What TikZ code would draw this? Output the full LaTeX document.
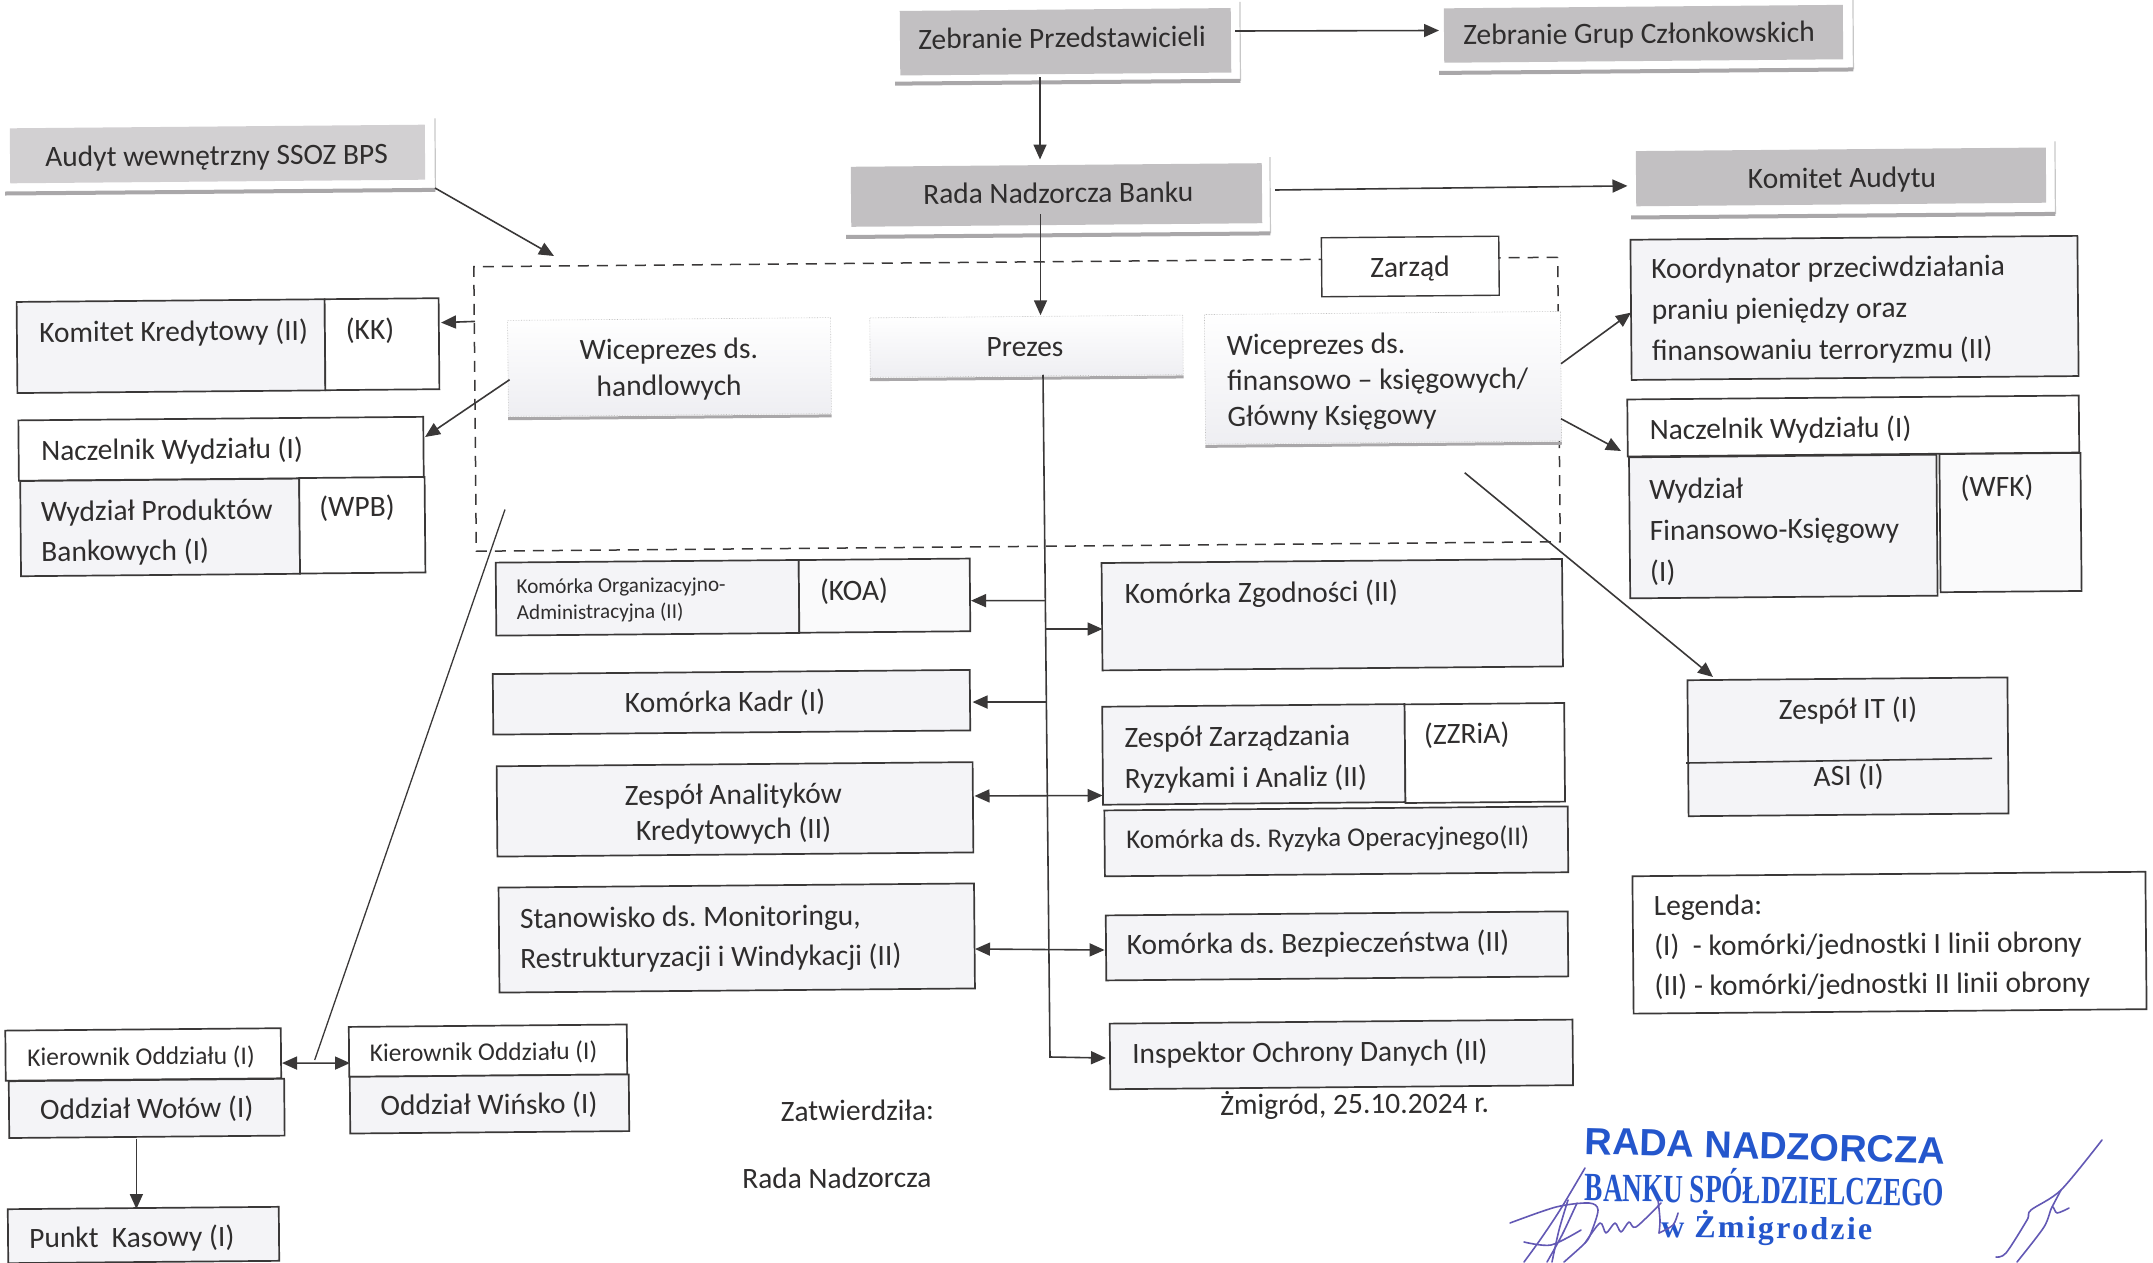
\documentclass[tikz,border=0pt]{standalone}
\usepackage{fontspec}
\usepackage{graphicx}
\setmainfont{Carlito}
\newfontfamily\stampa{Liberation Sans}
\newfontfamily\stampb{Liberation Serif}
\newfontfamily\stampc[LetterSpace=7]{Liberation Serif}
\usetikzlibrary{calc,arrows.meta}
\definecolor{inkc}{HTML}{3A3838}
\definecolor{txtc}{HTML}{2F2D2D}
\definecolor{lav}{HTML}{F4F4F7}
\definecolor{pale}{HTML}{EEEEF2}
\definecolor{gra}{HTML}{C2C0C2}
\definecolor{grb}{HTML}{D2D0D2}
\definecolor{shc}{HTML}{A9A7A9}
\definecolor{stampblue}{HTML}{2456CC}
\definecolor{signc}{HTML}{6258B4}
\tikzset{
  x=1pt,y=-1pt,
  cell/.style={rectangle,draw=inkc,line width=1.7pt,inner sep=0pt,rotate=0.5},
  lavcell/.style={cell,fill=lav},
  whitecell/.style={cell,fill=white},
  graycell/.style={rectangle,draw=none,fill=gra,inner sep=0pt,rotate=0.5},
  paleboard/.style={rectangle,draw=black!25,densely dotted,line width=.6pt,top color=white,bottom color=pale,inner sep=0pt,rotate=0.5},
  frameline/.style={rectangle,draw=inkc,dash pattern=on 11pt off 8pt,line width=1.5pt,inner sep=0pt,rotate=0.5},
  lbl/.style={inner sep=0pt,text=txtc,rotate=0.5,font=\fontsize{29.5}{40}\selectfont},
  lblsmall/.style={lbl,font=\fontsize{25.5}{30}\selectfont},
  lbltiny/.style={lbl,font=\fontsize{21.2}{26}\selectfont},
  lblnarrow/.style={lbl,font=\fontsize{27}{40}\selectfont},
  arr/.style={draw=inkc,line width=1.6pt,-{Triangle[length=15pt,width=13pt]}},
  arrb/.style={draw=inkc,line width=1.6pt,{Triangle[length=15pt,width=13pt]}-{Triangle[length=15pt,width=13pt]}},
  plain/.style={draw=inkc,line width=1.6pt},
  shr/.style={draw=black!22,line width=1.2pt},
  shb/.style={draw=shc,line width=4pt},
  signline/.style={draw=signc,line width=1.6pt,line cap=round,line join=round},
}
\newcommand{\mybox}[6]{\node[#1,minimum width={(#5-#3)*1pt},minimum height={(#6-#4)*1pt}] (#2) at ({(#3+#5)/2},{(#4+#6)/2}) {};}
\newcommand{\shad}[3]{%
  \draw[shr] ([xshift=#2pt,yshift=6pt]#1.north east) -- ([xshift=#2pt,yshift=-#3pt]#1.south east);
  \draw[shb] ([xshift=-5pt,yshift=-#3pt]#1.south west) -- ([xshift=#2pt,yshift=-#3pt]#1.south east);}
\begin{document}
\frenchspacing
\begin{tikzpicture}
\useasboundingbox (0,0) rectangle (2153,1263);
% dashed board frame
\mybox{frameline}{frame}{475}{262}{1559}{546.5}
% grey boxes
\mybox{graycell}{zp}{900}{9.5}{1231}{74}
\mybox{graycell}{zg}{1444}{6.6}{1843}{61}
\mybox{graycell,fill=grb}{audyt}{10}{126.5}{425}{181.5}
\mybox{graycell}{rada}{851}{165}{1262}{225}
\mybox{graycell}{komitet}{1636}{149.3}{2046}{204.5}
\shad{zp}{9}{8}\shad{zg}{10}{10}\shad{audyt}{10}{10}\shad{rada}{8}{10}\shad{komitet}{9}{11}
% board
\mybox{whitecell,line width=1.4pt}{zarzad}{1321.6}{237}{1499}{296}
\mybox{paleboard}{wh}{508}{319}{831}{415}
\mybox{paleboard}{prezes}{870}{316.5}{1183}{376}
\mybox{paleboard}{wf}{1205}{313}{1561}{442.5}
\draw[shb,line width=3pt] ([yshift=-2pt]wh.south west) -- ([yshift=-2pt]wh.south east);
\draw[shb,line width=3pt] ([yshift=-2pt]prezes.south west) -- ([yshift=-2pt]prezes.south east);
\draw[shb,line width=3pt] ([yshift=-2pt]wf.south west) -- ([yshift=-2pt]wf.south east);
% left cells
\mybox{lavcell}{kka}{17}{300.6}{325}{391.7}
\mybox{whitecell}{kkb}{325}{298.7}{439}{389.7}
\mybox{whitecell}{nw}{18.6}{418.6}{423.5}{479}
\mybox{lavcell}{wpba}{20.6}{479.8}{299.6}{575}
\mybox{whitecell}{wpbb}{299.6}{477.5}{425}{573}
% centre left
\mybox{lavcell}{koaa}{496}{561.3}{799}{634.3}
\mybox{whitecell,fill=lav!50}{koab}{799}{559.3}{970}{632}
\mybox{lavcell}{kadr}{493}{672}{970}{732.5}
\mybox{lavcell}{anal}{497}{764.2}{973}{854.5}
\mybox{lavcell}{stan}{499}{885.5}{974.5}{990.5}
% centre right
\mybox{lavcell}{zgod}{1102}{561}{1562.5}{668.4}
\mybox{lavcell}{zzra}{1102.6}{705.4}{1405}{803.4}
\mybox{whitecell}{zzrb}{1405}{703.7}{1564.6}{802.3}
\mybox{lavcell}{ryz}{1104.6}{808.4}{1568}{874.3}
\mybox{lavcell}{bez}{1106}{913.4}{1568}{978.4}
\mybox{lavcell}{ins}{1110}{1021.6}{1572.8}{1087.2}
% right
\mybox{lavcell}{ko}{1631}{237.8}{2078}{378}
\mybox{whitecell}{nwf}{1627.5}{397.5}{2079}{454.5}
\mybox{lavcell}{wfka}{1629.6}{456}{1937}{597}
\mybox{whitecell,fill=lav!50}{wfkb}{1940}{453.5}{2081}{591.6}
\mybox{lavcell}{it}{1688}{678.8}{2008}{814.8}
\mybox{whitecell}{leg}{1633}{874}{2146}{1011.4}
% branches
\mybox{whitecell}{kw}{5.5}{1029.4}{281}{1079.5}
\mybox{lavcell}{ow}{9}{1080}{284.4}{1136.8}
\mybox{whitecell}{kwi}{349}{1025.7}{627}{1075.6}
\mybox{lavcell}{owi}{350}{1075.6}{629}{1132.3}
\mybox{lavcell}{punkt}{8}{1208}{279}{1262}
% free points
\coordinate (cA) at (505,509.5);
\coordinate (cB) at (314.7,1060);
\coordinate (tk) at (1050,1057);
\coordinate (ja) at (1045.3,600.6);
\coordinate (jb) at (1045.6,629);
\coordinate (jc) at (1046.4,702);
\coordinate (itl) at (1686,763);
\coordinate (itr) at (1992,758.4);
% connectors
\draw[arr] ($(zp)+(169.5,-10.75)$) -- ($(zg)+(-204.5,-3.3)$);
\draw[arr] ($(zp)+(-25.5,35.75)$) -- ($(rada)+(-16.5,-35.5)$);
\draw[arr] ($(rada)+(-16,19)$) -- ($(prezes)+(14,-31)$);
\draw[arr] ($(rada)+(218.5,-5)$) -- ($(komitet)+(-213.5,9)$);
\draw[arr] ($(audyt)+(217.5,34)$) -- ($(frame)+(-463,-148.25)$);
\draw[arr] ($(frame)+(-542,-82.85)$) -- ($(kkb)+(59,-21.6)$);
\draw[arr] ($(wh)+(-159.9,12.7)$) -- ($(nw)+(204,-11.8)$);
\draw[arr] ($(wf)+(178,-14)$) -- ($(ko)+(-223.5,4.7)$);
\draw[arr] ($(wf)+(178,41)$) -- ($(nwf)+(-232.25,25)$);
\draw[arr] ($(wf)+(81.7,95)$) -- ($(it)+(-135,-69.8)$);
\draw[plain,line width=1.3pt] (cA) -- (cB);
\draw[arrb] ($(kw)+(138.75,8.6)$) -- ($(kwi)+(-138,12.4)$);
\draw[arr] ($(ow)+(-10.3,30.3)$) -- ($(punkt)+(-7.1,-26)$);
\draw[arr] ($(prezes)+(16.5,28.5)$) -- (tk) -- ($(ins)+(-235.4,3.6)$);
\draw[arr] (ja) -- ($(koab)+(86.5,5)$);
\draw[arr] (jb) -- ($(zgod)+(-229.75,14.3)$);
\draw[arr] (jc) -- ($(kadr)+(241,-0.2)$);
\draw[arrb] ($(anal)+(239.5,-13.4)$) -- ($(zzra)+(-151.2,41.1)$);
\draw[arrb] ($(stan)+(238.25,11)$) -- ($(bez)+(-232.4,4.1)$);
\draw[plain] (itl) -- (itr);
% labels
\node[lbl,anchor=west] (tzp) at (918,39) {Zebranie Przedstawicieli};
\node[lbl,anchor=west] (tzg) at (1463,37) {Zebranie Grup Członkowskich};
\node[lbl,anchor=west] (tau) at (45,159) {Audyt wewnętrzny SSOZ BPS};
\node[lbl,anchor=west] (tra) at (923,194) {Rada Nadzorcza Banku};
\node[lbl] (tko) at (1842,180) {Komitet Audytu};
\node[lbl] (tza) at (1410,269) {Zarząd};
\node[lbl,align=center] (twh) at (669,369.5) {Wiceprezes ds.\\[-3.5pt]handlowych};
\node[lbl] (tpr) at (1025,347) {Prezes};
\node[lbl,anchor=west,align=left] (twf) at (1227,383) {Wiceprezes ds.\\[-4.5pt]finansowo – księgowych/\\[-4.5pt]Główny Księgowy};
\node[lbl,anchor=west] (tkk) at (39,334) {Komitet Kredytowy (II)};
\node[lbl] (tkkb) at (370,330.6) {(KK)};
\node[lbl,anchor=west] (tnw) at (41,452) {Naczelnik Wydziału (I)};
\node[lbl,anchor=west,align=left] (twp) at (41,533.5) {Wydział Produktów\\Bankowych (I)};
\node[lbl] (twpb) at (357,508) {(WPB)};
\node[lbltiny,anchor=west,align=left] (tkoa) at (516.5,601) {Komórka Organizacyjno-\\Administracyjna (II)};
\node[lbl] (tkoab) at (854,591.4) {(KOA)};
\node[lbl] (tkad) at (725,703) {Komórka Kadr (I)};
\node[lbl,align=center] (tan) at (733.5,814) {Zespół Analityków\\[-5pt]Kredytowych (II)};
\node[lbl,anchor=west,align=left] (tst) at (520,940.5) {Stanowisko ds. Monitoringu,\\Restrukturyzacji i Windykacji (II)};
\node[lbl,anchor=west] (tzgo) at (1124.5,595.6) {Komórka Zgodności (II)};
\node[lbl,anchor=west,align=left] (tzz) at (1124.5,760) {Zespół Zarządzania\\[1pt]Ryzykami i Analiz (II)};
\node[lbl] (tzzb) at (1466.7,735) {(ZZRiA)};
\node[lblnarrow,anchor=west] (try) at (1126,841) {Komórka ds. Ryzyka Operacyjnego(II)};
\node[lbl,anchor=west] (tbe) at (1126.5,946) {Komórka ds. Bezpieczeństwa (II)};
\node[lbl,anchor=west] (tin) at (1132,1055) {Inspektor Ochrony Danych (II)};
\node[lbl,anchor=west,align=left] (tkoo) at (1651.5,312) {Koordynator przeciwdziałania\\[1pt]praniu pieniędzy oraz\\[1pt]finansowaniu terroryzmu (II)};
\node[lbl,anchor=west] (tnf) at (1649.5,431) {Naczelnik Wydziału (I)};
\node[lbl,anchor=west,align=left] (twk) at (1649.5,532) {Wydział\\[1pt]Finansowo-Księgowy\\[1pt](I)};
\node[lbl] (twkb) at (1997,488) {(WFK)};
\node[lbl] (tit) at (1848,710.5) {Zespół IT (I)};
\node[lbl] (tas) at (1848.6,777) {ASI (I)};
\node[lbl,anchor=west,align=left] (tle) at (1654,948) {Legenda:\\(I)\ \ - komórki/jednostki I linii obrony\\(II) - komórki/jednostki II linii obrony};
\node[lblsmall] (tkw) at (141,1057.5) {Kierownik Oddziału (I)};
\node[lbl] (tow) at (146.7,1109.6) {Oddział Wołów (I)};
\node[lblsmall] (tkwi) at (483.5,1053) {Kierownik Oddziału (I)};
\node[lbl] (towi) at (489,1105.6) {Oddział Wińsko (I)};
\node[lbl,anchor=west] (tpu) at (29,1239.6) {Punkt\ \ Kasowy (I)};
\node[lbl] (tzat) at (857.4,1110.4) {Zatwierdziła:};
\node[lbl] (trn) at (836.8,1178) {Rada Nadzorcza};
\node[lbl,anchor=west] (tda) at (1220,1105.6) {Żmigród, 25.10.2024 r.};
% stamp
\node[inner sep=0pt,text=stampblue,rotate=-1.6,anchor=west,font=\stampa\bfseries\fontsize{37.9}{42}\selectfont] (sa) at (1585,1141) {RADA NADZORCZA};
\node[inner sep=0pt,text=stampblue,rotate=-0.8,anchor=west,font=\stampb\bfseries\fontsize{40}{44}\selectfont] (sb) at (1585,1184) {\scalebox{0.68}[1]{BANKU SPÓŁDZIELCZEGO}};
\node[inner sep=0pt,text=stampblue,rotate=-0.8,anchor=west,font=\stampc\bfseries\fontsize{32}{36}\selectfont] (sc) at (1661,1227) {w Żmigrodzie};
% signatures
\draw[signline] plot[smooth] coordinates {(1585,1168) (1560,1210) (1540,1240) (1524,1262)};
\draw[signline] plot[smooth] coordinates {(1510,1223) (1556,1207) (1589,1203) (1598,1210) (1591,1233) (1585,1243) (1564,1262)};
\draw[signline] plot[smooth] coordinates {(1524,1242) (1551,1245) (1581,1230)};
\draw[signline] plot[smooth] coordinates {(1577,1203) (1562,1235) (1547,1262)};
\draw[signline] plot[smooth] coordinates {(1568,1200) (1559,1230) (1552,1262)};
\draw[signline] plot[smooth] coordinates {(1585,1243) (1600,1223) (1606,1233) (1615,1223) (1621,1232) (1629,1222) (1636,1227) (1661,1203)};
\draw[signline] plot[smooth] coordinates {(1659,1233) (1673,1225) (1678,1213)};
\draw[signline] plot[smooth] coordinates {(1658,1200) (1660,1220) (1659,1233)};
\draw[signline] plot[smooth] coordinates {(2102,1140) (2061,1190) (2031,1210) (2027,1220) (2006,1253) (1996,1257)};
\draw[signline] plot[smooth] coordinates {(2069,1208) (2057,1213) (2052,1207) (2044,1227) (2017,1262)};
\draw[signline] plot[smooth] coordinates {(2061,1190) (2052,1207)};
\end{tikzpicture}
\end{document}
